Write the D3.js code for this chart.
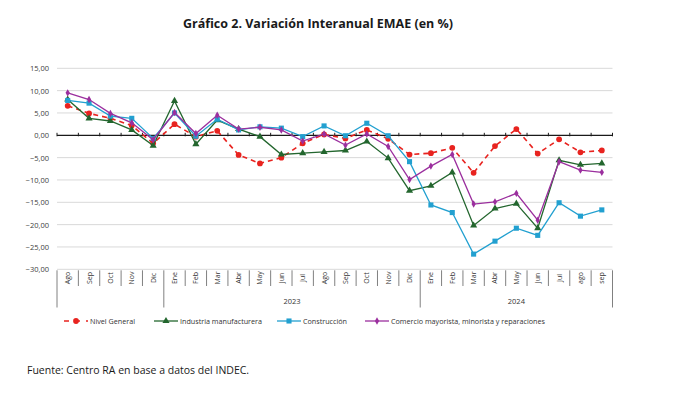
<!DOCTYPE html>
<html>
<head>
<meta charset="utf-8">
<script src="https://cdn.jsdelivr.net/npm/d3@7"></script>
<style>
  body { margin: 0; background: #fff; }
  text { font-family: "Open Sans", "Liberation Sans", sans-serif; }
</style>
</head>
<body>
<div id="chart"></div>
<script>
const WIDTH = 685;
const HEIGHT = 397;

// DATA
const months = ["Ago", "Sep", "Oct", "Nov", "Dic",
  "Ene", "Feb", "Mar", "Abr", "May", "Jun", "Jul", "Ago", "Sep", "Oct", "Nov", "Dic",
  "Ene", "Feb", "Mar", "Abr", "May", "Jun", "Jul", "ago", "sep"];
const years = [
  { label: "", start: 0, end: 5 },
  { label: "2023", start: 5, end: 17 },
  { label: "2024", start: 17, end: 26 }
];
const yTicks = [15, 10, 5, 0, -5, -10, -15, -20, -25, -30];

const nivelGeneral = [6.6, 4.9, 3.8, 2.2, -1.8, 2.5, -0.3, 1.0, -4.4, -6.3, -5.0, -1.8, 0.2, -0.7, 1.2, -0.8, -4.3,
  -4.0, -2.8, -8.4, -2.4, 1.4, -4.1, -0.9, -3.8, -3.4];
const industria = [8.0, 3.8, 3.2, 1.2, -2.3, 7.7, -2.0, 3.4, 1.4, -0.3, -4.3, -4.0, -3.7, -3.4, -1.4, -5.1, -12.4,
  -11.3, -8.3, -20.2, -16.4, -15.3, -20.8, -5.6, -6.6, -6.3];
const construccion = [7.8, 7.2, 4.3, 3.8, -0.7, 5.0, -0.2, 3.6, 1.2, 1.9, 1.6, -0.3, 2.1, -0.1, 2.7, -0.1, -5.9,
  -15.6, -17.3, -26.6, -23.7, -20.8, -22.4, -15.1, -18.1, -16.7];
const comercio = [9.5, 8.0, 4.9, 2.8, -1.0, 5.1, 0.4, 4.5, 1.4, 1.8, 1.2, -1.3, 0.3, -2.2, 0.3, -2.5, -9.9,
  -6.9, -4.3, -15.4, -14.9, -13.0, -19.0, -5.9, -7.8, -8.3];

const series = [
  { name: "Nivel General", values: nivelGeneral, color: "#e8231f", dash: "5,4", marker: "circle" },
  { name: "Industria manufacturera", values: industria, color: "#23662e", dash: null, marker: "triangle" },
  { name: "Construcción", values: construccion, color: "#22a0d0", dash: null, marker: "square" },
  { name: "Comercio mayorista, minorista y reparaciones", values: comercio, color: "#9b2f9e", dash: null, marker: "diamond" }
];

const MARGIN = { LEFT: 57, RIGHT: 73, TOP: 68, BOTTOM: 128 };

const svg = d3.select("#chart")
  .append("svg")
  .attr("width", WIDTH)
  .attr("height", HEIGHT);

// TITLE
svg.append("text")
  .attr("x", 318)
  .attr("y", 28)
  .attr("text-anchor", "middle")
  .attr("font-size", "12.5px")
  .attr("font-weight", "bold")
  .style("fill", "#1a1a1a")
  .text("Gráfico 2. Variación Interanual EMAE (en %)");

// SCALES
const x = d3.scaleBand()
  .domain(d3.range(months.length))
  .range([MARGIN.LEFT, WIDTH - MARGIN.RIGHT + 0.5]);

const y = d3.scaleLinear()
  .domain([-30, 15])
  .range([269.3, 68.3]);

const fmt = (d) => d3.format(".2f")(d).replace(".", ",");

// GRID
svg.append("g")
  .selectAll("line")
  .data(yTicks.filter((d) => d !== 0))
  .join("line")
  .attr("x1", x.range()[0])
  .attr("x2", x.range()[1])
  .attr("y1", (d) => y(d))
  .attr("y2", (d) => y(d))
  .attr("stroke", "#d9d9d9")
  .attr("stroke-width", 1);

// Y AXIS
const yAxisGroup = svg.append("g")
  .attr("transform", `translate(${MARGIN.LEFT - 5}, 0)`)
  .call(d3.axisLeft(y).tickValues(yTicks).tickSize(0).tickFormat(fmt))
  .call((g) => g.select(".domain").remove());
yAxisGroup.selectAll("text")
  .attr("font-size", "7.5px")
  .attr("font-family", "'Liberation Sans', sans-serif")
  .style("fill", "#404040");

// ZERO LINE
svg.append("line")
  .attr("x1", x.range()[0])
  .attr("x2", x.range()[1])
  .attr("y1", y(0))
  .attr("y2", y(0))
  .attr("stroke", "#1a1a1a")
  .attr("stroke-width", 1.2);
svg.append("g")
  .selectAll("line")
  .data(d3.range(months.length + 1))
  .join("line")
  .attr("x1", (d) => x.range()[0] + d * x.step())
  .attr("x2", (d) => x.range()[0] + d * x.step())
  .attr("y1", y(0) - 2.5)
  .attr("y2", y(0) + 1)
  .attr("stroke", "#1a1a1a")
  .attr("stroke-width", 1);

// CATEGORY AXIS (month + year)
const axisTop = y(-30);
const yearStarts = years.map((d) => d.start).concat([months.length]);
svg.append("g")
  .selectAll("line")
  .data(d3.range(months.length + 1))
  .join("line")
  .attr("x1", (d) => x.range()[0] + d * x.step())
  .attr("x2", (d) => x.range()[0] + d * x.step())
  .attr("y1", axisTop + 1)
  .attr("y2", (d) => yearStarts.includes(d) ? 307.5 : 286)
  .attr("stroke", "#808080")
  .attr("stroke-width", 1);

svg.append("g")
  .selectAll("text")
  .data(months)
  .join("text")
  .attr("transform", (d, i) => `translate(${x(i) + x.bandwidth() / 2 + 2.5}, 278) rotate(-90)`)
  .attr("text-anchor", "middle")
  .attr("font-size", "7px")
  .attr("font-family", "'Liberation Sans', sans-serif")
  .style("fill", "#333")
  .text((d) => d);

svg.append("g")
  .selectAll("text")
  .data(years)
  .join("text")
  .attr("x", (d) => x.range()[0] + (d.start + d.end) / 2 * x.step())
  .attr("y", 304)
  .attr("text-anchor", "middle")
  .attr("font-size", "7.5px")
  .attr("font-family", "'Liberation Sans', sans-serif")
  .style("fill", "#333")
  .text((d) => d.label);

// LINES
const line = d3.line()
  .x((d, i) => x(i) + x.bandwidth() / 2)
  .y((d) => y(d));

const symbolFor = {
  circle: d3.symbol().type(d3.symbolCircle).size(26),
  triangle: d3.symbol().type(d3.symbolTriangle).size(22),
  square: d3.symbol().type(d3.symbolSquare).size(26),
  diamond: d3.symbol().type(d3.symbolDiamond).size(16)
};

const seriesGroup = svg.append("g")
  .selectAll("g")
  .data(series)
  .join("g");

seriesGroup.append("path")
  .attr("d", (d) => line(d.values))
  .attr("fill", "none")
  .attr("stroke", (d) => d.color)
  .attr("stroke-width", (d) => d.dash ? 1.6 : 1.3)
  .attr("stroke-dasharray", (d) => d.dash);

seriesGroup.selectAll("path.marker")
  .data((d) => d.values.map((v) => ({ v: v, s: d })))
  .join("path")
  .attr("class", "marker")
  .attr("transform", (d, i) => `translate(${x(i) + x.bandwidth() / 2}, ${y(d.v)})`)
  .attr("d", (d) => symbolFor[d.s.marker]())
  .attr("fill", (d) => d.s.color);

// LEGEND
const legendX = [64, 154, 277, 365];
const legend = svg.append("g")
  .selectAll("g")
  .data(series)
  .join("g")
  .attr("transform", (d, i) => `translate(${legendX[i]}, 321)`);

legend.append("line")
  .attr("x1", 0)
  .attr("x2", 24)
  .attr("stroke", (d) => d.color)
  .attr("stroke-width", (d) => d.dash ? 1.6 : 1.3)
  .attr("stroke-dasharray", (d) => d.dash ? "5,6" : null);

legend.append("path")
  .attr("transform", "translate(12, 0)")
  .attr("d", (d) => symbolFor[d.marker]())
  .attr("fill", (d) => d.color);

legend.append("text")
  .attr("x", 26)
  .attr("y", 2.6)
  .attr("font-size", "7.2px")
  .attr("font-family", "'Liberation Sans', sans-serif")
  .style("fill", "#333")
  .text((d) => d.name);

// SOURCE
svg.append("text")
  .attr("x", 27)
  .attr("y", 374)
  .attr("font-size", "10.5px")
  .style("fill", "#1a1a1a")
  .text("Fuente: Centro RA en base a datos del INDEC.");
</script>
</body>
</html>
